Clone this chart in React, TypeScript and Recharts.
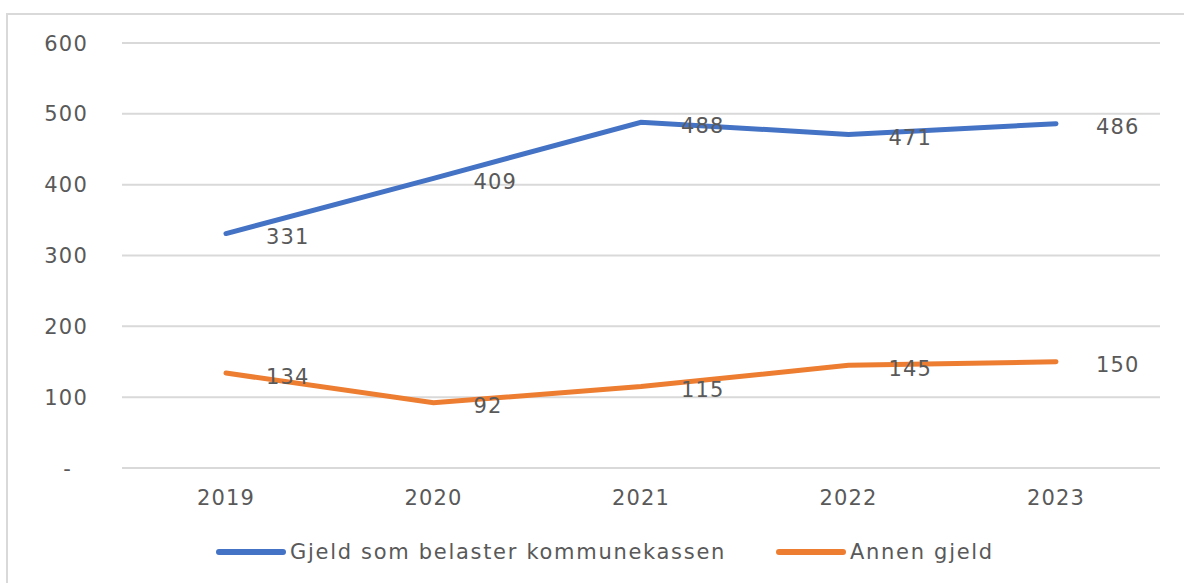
import React from "react";
import { LineChart, Line, XAxis, YAxis, CartesianGrid, LabelList } from "recharts";

const years = ["2019", "2020", "2021", "2022", "2023"];
const gjeldKommunekassen = [331, 409, 488, 471, 486];
const annenGjeld = [134, 92, 115, 145, 150];
const yTicks = [0, 100, 200, 300, 400, 500, 600];
const seriesNames = ["Gjeld som belaster kommunekassen", "Annen gjeld"];
const seriesColors = ["#4472C4", "#ED7D31"];

const data = years.map((y, i) => ({ year: y, a: gjeldKommunekassen[i], b: annenGjeld[i] }));

const FONT = "'DejaVu Sans', sans-serif";
const TEXT = "#595959";

const YTick = (props: any) => {
  const { x, y, payload } = props;
  const isZero = payload.value === 0;
  return (
    <text
      x={isZero ? x - 16 : x}
      y={y}
      dy="0.36em"
      textAnchor="end"
      fill={TEXT}
      fontSize={21}
      fontFamily={FONT}
      letterSpacing={1.2}
    >
      {isZero ? "-" : payload.value}
    </text>
  );
};

const XTick = (props: any) => {
  const { x, y, payload } = props;
  return (
    <text x={x} y={y} dy="0.71em" textAnchor="middle" fill={TEXT} fontSize={21} fontFamily={FONT} letterSpacing={1.2}>
      {payload.value}
    </text>
  );
};

const ValueLabel = (props: any) => {
  const { x, y, value } = props;
  return (
    <text x={x + 40} y={y + 3} dy="0.36em" textAnchor="start" fill={TEXT} fontSize={21} fontFamily={FONT} letterSpacing={1.2}>
      {value}
    </text>
  );
};

const LegendBox = () => (
  <div
    style={{
      position: "absolute",
      left: 216,
      top: 540,
      display: "flex",
      alignItems: "center",
      fontFamily: FONT,
      fontSize: 21,
      color: TEXT,
      letterSpacing: 1.7,
      lineHeight: "24px",
    }}
  >
    {seriesNames.map((n, i) => (
      <div key={n} style={{ display: "flex", alignItems: "center", marginRight: 50 }}>
        <div style={{ width: 70, height: 6, borderRadius: 3, background: seriesColors[i], marginRight: 4 }} />
        <span style={{ whiteSpace: "nowrap" }}>{n}</span>
      </div>
    ))}
  </div>
);

export default function App() {
  return (
    <div style={{ position: "absolute", left: 0, top: 0, width: 1184, height: 583, background: "#fff", overflow: "hidden" }}>
      <div
        style={{
          position: "absolute",
          left: 6,
          top: 13,
          width: 1200,
          height: 600,
          borderLeft: "2px solid #d9d9d9",
          borderTop: "2px solid #d9d9d9",
        }}
      />
      <div style={{ position: "absolute", left: 0, top: 0 }}>
        <LineChart width={1184} height={583} data={data} margin={{ top: 43, right: 24, bottom: 0, left: 0 }}>
          <CartesianGrid horizontal vertical={false} stroke="#d9d9d9" strokeWidth={2} />
          <XAxis
            dataKey="year"
            axisLine={false}
            tickLine={false}
            tickSize={0}
            tickMargin={22}
            tick={<XTick />}
            interval={0}
            padding={{ left: 104, right: 104 }}
            height={115}
          />
          <YAxis
            width={122}
            domain={[0, 600]}
            ticks={yTicks}
            axisLine={false}
            tickLine={false}
            tickSize={0}
            tickMargin={34}
            tick={<YTick />}
            interval={0}
          />
          <Line
            type="linear"
            dataKey="a"
            name={seriesNames[0]}
            stroke={seriesColors[0]}
            strokeWidth={5}
            strokeLinecap="round"
            dot={false}
            isAnimationActive={false}
          >
            <LabelList dataKey="a" content={<ValueLabel />} />
          </Line>
          <Line
            type="linear"
            dataKey="b"
            name={seriesNames[1]}
            stroke={seriesColors[1]}
            strokeWidth={5}
            strokeLinecap="round"
            dot={false}
            isAnimationActive={false}
          >
            <LabelList dataKey="b" content={<ValueLabel />} />
          </Line>
        </LineChart>
      </div>
      <LegendBox />
    </div>
  );
}
